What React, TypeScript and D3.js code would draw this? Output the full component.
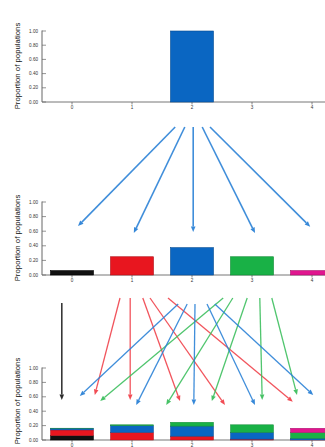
import React from "react";
import * as d3 from "d3";

// ---------- data ----------
const categories = [0, 1, 2, 3, 4];
const xTickLabels = ["0", "1", "2", "3", "4"];
const yTicks = [0, 0.2, 0.4, 0.6, 0.8, 1.0];
const yLabel = "Proportion of populations";

// generation 0: all populations at state 2
const gen0 = [0, 0, 1.0, 0, 0];
// generation 1
const gen1 = [0.06, 0.25, 0.375, 0.25, 0.06];
// generation 2 (stacked by origin)
const gen2Black = [0.06, 0, 0, 0, 0];
const gen2Red = [0.08, 0.105, 0.053, 0.012, 0.001];
const gen2Blue = [0.023, 0.094, 0.14, 0.094, 0.023];
const gen2Green = [0.001, 0.012, 0.053, 0.105, 0.079];
const gen2Magenta = [0, 0, 0, 0, 0.06];
const originKeys = ["black", "red", "blue", "green", "magenta"];

// arrows gen0 -> gen1 (category units, proportion units on gen1 scale)
const arr1Start = [1.72, 1.88, 2.02, 2.17, 2.3];
const arr1End = [0.1, 1.03, 2.02, 3.05, 3.97];
const arr1EndY = [0.67, 0.575, 0.59, 0.575, 0.66];

// arrows gen1 -> gen2 (category units, proportion units on gen2 scale)
const blackStart = [-0.17];
const blackEnd = [-0.17];
const blackEndY = [0.556];
const redStart = [0.8, 0.97, 1.18, 1.3, 1.6];
const redEnd = [0.38, 0.97, 1.8, 2.55, 3.68];
const redEndY = [0.625, 0.556, 0.54, 0.486, 0.53];
const blueStart = [1.77, 1.92, 2.05, 2.25, 2.38];
const blueEnd = [0.13, 1.07, 2.03, 3.05, 4.02];
const blueEndY = [0.61, 0.486, 0.486, 0.486, 0.625];
const greenStart = [2.52, 2.68, 2.92, 3.13, 3.33];
const greenEnd = [0.47, 1.57, 2.33, 3.17, 3.75];
const greenEndY = [0.54, 0.486, 0.54, 0.556, 0.625];

// ---------- styles ----------
const COLORS: Record<string, string> = {
  black: "#111111",
  red: "#e8161f",
  blue: "#0a66c2",
  green: "#19b146",
  magenta: "#e0168f",
};
const STROKES: Record<string, string> = {
  black: "#000000",
  red: "#b01018",
  blue: "#064c92",
  green: "#108a34",
  magenta: "#a80f6a",
};
const ARROW: Record<string, string> = {
  black: "#222222",
  red: "#f0424b",
  blue: "#2b82d6",
  green: "#3dbf5e",
};
const catColor = ["black", "red", "blue", "green", "magenta"];

const W = 325;
const H = 447;
const AXIS_X = 42;
const panels = [
  { bottom: 102, top: 31, labelY: 66 },
  { bottom: 275, top: 202, labelY: 238 },
  { bottom: 440, top: 368, labelY: 401 },
];
const FONT = "Liberation Sans, Arial, sans-serif";

function Arrow({ x1, y1, x2, y2, color, width = 1.4, L = 5.5, hw = 2.3 }: any) {
  const dx = x2 - x1;
  const dy = y2 - y1;
  const len = Math.sqrt(dx * dx + dy * dy);
  const ux = dx / len;
  const uy = dy / len;
  const bx = x2 - ux * L;
  const by = y2 - uy * L;
  const px = -uy * hw;
  const py = ux * hw;
  return (
    <g>
      <line x1={x1} y1={y1} x2={bx} y2={by} stroke={color} strokeWidth={width} strokeOpacity={0.9} />
      <polygon
        points={`${x2},${y2} ${bx + px},${by + py} ${bx - px},${by - py}`}
        fill={color}
        fillOpacity={0.95}
      />
    </g>
  );
}

function Axes({ bottom, top, labelY, x, y }: any) {
  const bw = x.bandwidth();
  return (
    <g>
      <text
        transform={`translate(20,${labelY}) rotate(-90)`}
        textAnchor="middle"
        fontFamily={FONT}
        fontSize={7.8}
        fill="#111"
      >
        {yLabel}
      </text>
      <line x1={AXIS_X} x2={AXIS_X} y1={top - 0.5} y2={bottom} stroke="#666" strokeWidth={1} />
      <line x1={AXIS_X} x2={W} y1={bottom} y2={bottom} stroke="#777" strokeWidth={1} />
      {yTicks.map((t) => (
        <g key={t}>
          <line x1={AXIS_X} x2={AXIS_X + 4} y1={y(t)} y2={y(t)} stroke="#666" strokeWidth={0.7} />
          <text
            x={AXIS_X - 4}
            y={y(t) + 1.6}
            textAnchor="end"
            fontFamily={FONT}
            fontSize={4.6}
            fill="#333"
          >
            {t.toFixed(2)}
          </text>
        </g>
      ))}
      {categories.map((c, i) => {
        const cx = (x(c) as number) + bw / 2;
        return (
          <g key={c}>
            <line x1={cx} x2={cx} y1={bottom} y2={bottom + 2.5} stroke="#666" strokeWidth={0.8} />
            <text x={cx} y={bottom + 7} textAnchor="middle" fontFamily={FONT} fontSize={4.6} fill="#333">
              {xTickLabels[i]}
            </text>
          </g>
        );
      })}
    </g>
  );
}

export default function App() {
  const x = d3
    .scaleBand<number>()
    .domain(categories)
    .range([AXIS_X, AXIS_X + 300])
    .paddingInner(0.283)
    .paddingOuter(0.1415);
  const bw = x.bandwidth();
  const cx = d3
    .scaleLinear()
    .domain([0, 4])
    .range([(x(0) as number) + bw / 2, (x(4) as number) + bw / 2]);

  const ys = panels.map((p) => d3.scaleLinear().domain([0, 1]).range([p.bottom, p.top]));

  const rows = categories.map((c, i) => ({
    cat: c,
    black: gen2Black[i],
    red: gen2Red[i],
    blue: gen2Blue[i],
    green: gen2Green[i],
    magenta: gen2Magenta[i],
  }));
  const stacked = d3.stack<any>().keys(originKeys)(rows);

  const ARROW1_TOP = 127;
  const ARROW2_TOP: Record<string, number> = { black: 303, red: 298, blue: 304, green: 298 };

  const arrowSets = [
    { key: "black", s: blackStart, e: blackEnd, ey: blackEndY },
    { key: "red", s: redStart, e: redEnd, ey: redEndY },
    { key: "green", s: greenStart, e: greenEnd, ey: greenEndY },
    { key: "blue", s: blueStart, e: blueEnd, ey: blueEndY },
  ];

  return (
    <svg
      width={W}
      height={H}
      style={{ position: "absolute", left: 0, top: 0, background: "#fff" }}
    >
      <rect width={W} height={H} fill="#fff" />
      {/* Panel 1 */}
      <Axes {...panels[0]} x={x} y={ys[0]} />
      {categories.map((c, i) =>
        gen0[i] > 0 ? (
          <rect
            key={c}
            x={x(c)}
            width={bw}
            y={ys[0](gen0[i])}
            height={ys[0](0) - ys[0](gen0[i])}
            fill={COLORS.blue}
            stroke={STROKES.blue}
            strokeWidth={0.6}
          />
        ) : null
      )}

      {/* Arrows gen0 -> gen1 */}
      {arr1Start.map((s, i) => (
        <Arrow
          key={i}
          x1={cx(s)}
          y1={ARROW1_TOP}
          x2={cx(arr1End[i])}
          y2={ys[1](arr1EndY[i])}
          color={ARROW.blue}
          width={1.6}
        />
      ))}

      {/* Panel 2 */}
      <Axes {...panels[1]} x={x} y={ys[1]} />
      {categories.map((c, i) => (
        <rect
          key={c}
          x={x(c)}
          width={bw}
          y={ys[1](gen1[i])}
          height={ys[1](0) - ys[1](gen1[i])}
          fill={COLORS[catColor[i]]}
          stroke={STROKES[catColor[i]]}
          strokeWidth={0.6}
        />
      ))}

      {/* Arrows gen1 -> gen2 */}
      {arrowSets.map((set) =>
        set.s.map((s, i) => (
          <Arrow
            key={set.key + i}
            x1={cx(s)}
            y1={ARROW2_TOP[set.key]}
            x2={cx(set.e[i])}
            y2={ys[2](set.ey[i])}
            color={ARROW[set.key]}
            width={set.key === "black" ? 1.6 : 1.3}
          />
        ))
      )}

      {/* Panel 3 */}
      <Axes {...panels[2]} x={x} y={ys[2]} />
      {stacked.map((layer) =>
        layer.map((d, i) =>
          d[1] - d[0] > 0 ? (
            <rect
              key={layer.key + i}
              x={x(categories[i])}
              width={bw}
              y={ys[2](d[1])}
              height={ys[2](d[0]) - ys[2](d[1])}
              fill={COLORS[layer.key]}
              stroke={STROKES[layer.key]}
              strokeWidth={0.5}
            />
          ) : null
        )
      )}
    </svg>
  );
}
